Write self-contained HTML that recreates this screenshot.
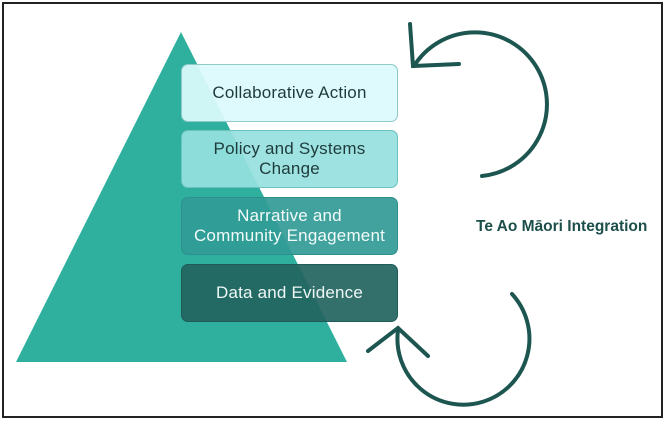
<!DOCTYPE html>
<html><head><style>
body{margin:0;width:668px;height:424px;background:#fff;overflow:hidden;font-family:"Liberation Sans",sans-serif}
.frame{position:absolute;left:2px;top:2px;width:661px;height:416px;border:2px solid #222;box-sizing:border-box}
.b{position:absolute;left:181px;width:217px;height:58px;border-radius:7px;box-sizing:border-box;display:flex;align-items:center;justify-content:center;text-align:center;font-size:17px;line-height:20px;letter-spacing:0.2px}
</style></head><body>
<div class="frame"></div>
<svg width="668" height="424" style="position:absolute;left:0;top:0">
<polygon points="181,32 16,362 347,362" fill="#2fb09f"/>
<g fill="none" stroke="#1d5650" stroke-width="4" stroke-linecap="round">
<path d="M414 66 A72 72 0 1 1 482 176"/>
<path d="M410 24 L413 66 L459 64"/>
<path d="M512 294 A66 66 0 1 1 398 330"/>
<path d="M368 351 L398 328 L428 356"/>
</g>
</svg>
<div class="b" style="top:64px;background:rgba(220,250,252,0.93);border:1px solid #8fc9c8;color:#1e3b3b">Collaborative Action</div>
<div class="b" style="top:130px;background:rgba(150,225,224,0.92);border:1px solid #6cc0bd;color:#1e3b3b">Policy and Systems<br>Change</div>
<div class="b" style="top:197px;background:rgba(50,155,150,0.92);border:1px solid #2f8f8a;color:#f2fbfa">Narrative and<br>Community Engagement</div>
<div class="b" style="top:264px;background:rgba(36,100,96,0.93);border:1px solid #1f5c58;color:#eef7f6">Data and Evidence</div>
<div style="position:absolute;left:476px;top:218px;font-size:15.5px;font-weight:bold;color:#1d4f4a">Te Ao Māori Integration</div>
</body></html>
